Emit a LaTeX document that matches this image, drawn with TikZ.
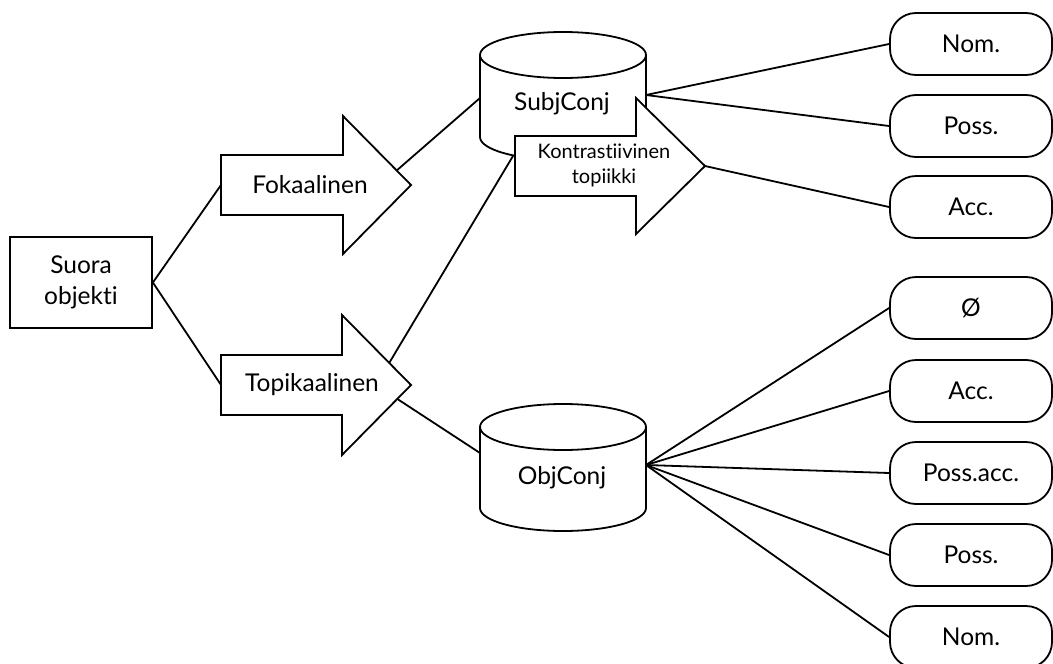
\documentclass[tikz,border=0pt]{standalone}
\usepackage{fontspec}
\setmainfont{Lato}[Ligatures={NoCommon}]
\newcommand{\fatarrow}[6]{%
  \path[shapefill] (#1,#2-#5) -- (#3,#2-#5) -- (#3,#2-#6) -- (#4,#2) -- (#3,#2+#6) -- (#3,#2+#5) -- (#1,#2+#5) -- cycle;}
\newcommand{\cylshape}[4]{% cx, top y, bottom y, rx ; ry fixed
  \path[shapefill] (#1-#4,#2) -- (#1-#4,#3) arc[start angle=180,end angle=360,x radius=#4pt,y radius=23pt] -- (#1+#4,#2) -- cycle;
  \path[shapefill] (#1,#2) ellipse[x radius=#4pt,y radius=23pt];}
\begin{document}
\begin{tikzpicture}[x=1pt,y=-1pt, line width=1.8pt, line join=miter,
  every node/.style={font=\fontsize{24.5}{31}\selectfont, inner sep=0pt},
  link/.style={line width=1.8pt},
  shapefill/.style={draw, fill=white, line width=1.8pt},
  casebox/.style={draw, fill=white, rounded corners=26pt, minimum width=162pt, minimum height=62pt, line width=1.8pt},
  small/.style={font=\fontsize{20}{25}\selectfont}
]
\useasboundingbox (0,0) rectangle (1053,664);

% connection points
\coordinate (fokW) at (221,185);
\coordinate (topW) at (221,385);
\coordinate (fokC) at (380,185);
\coordinate (topC) at (376,385);
\coordinate (subjL) at (480,98);
\coordinate (subjR) at (646,95);
\coordinate (subjB) at (513,156);
\coordinate (objL) at (480,453);
\coordinate (objR) at (646,465);
\coordinate (konT) at (705,166);

% case boxes
\node[casebox] (n1) at (971,44) {Nom.};
\node[casebox] (p1) at (971,126) {Poss.};
\node[casebox] (a1) at (971,207) {Acc.};
\node[casebox] (z2) at (971,308) {Ø};
\node[casebox] (a2) at (971,391) {Acc.};
\node[casebox] (pa2) at (971,473) {Poss.acc.};
\node[casebox] (p2) at (971,555) {Poss.};
\node[casebox] (n2) at (971,637) {Nom.};

% suora box
\node[draw, fill=white, minimum width=142pt, minimum height=91pt, align=center, line width=1.8pt] (suora) at (81,282.5) {Suora\\objekti};

% connectors (behind shapes)
\draw[link] (suora.east) -- (fokW);
\draw[link] (suora.east) -- (topW);
\draw[link] (fokC) -- (subjL);
\draw[link] (topC) -- (subjB);
\draw[link] (topC) -- (objL);
\draw[link] (subjR) -- (n1.west);
\draw[link] (subjR) -- (p1.west);
\draw[link] (konT) -- (a1.west);
\draw[link] (objR) -- (z2.west);
\draw[link] (objR) -- (a2.west);
\draw[link] (objR) -- (pa2.west);
\draw[link] (objR) -- (p2.west);
\draw[link] (objR) -- (n2.west);

% shapes
\fatarrow{221}{185}{343}{411}{30}{69}
\fatarrow{221}{385}{342}{411}{30}{70}
\cylshape{563}{55}{137}{83}
\cylshape{563}{427}{508}{83}
\fatarrow{515}{166}{636}{705}{30}{68}

% labels
\node (fok) at (310,185) {Fokaalinen};
\node (top) at (312,385) {Topikaalinen};
\node (subj) at (562,104) {SubjConj};
\node (obj) at (562,478) {ObjConj};
\node[small, align=center] (kon) at (604,165) {Kontrastiivinen\\topiikki};
\end{tikzpicture}
\end{document}
